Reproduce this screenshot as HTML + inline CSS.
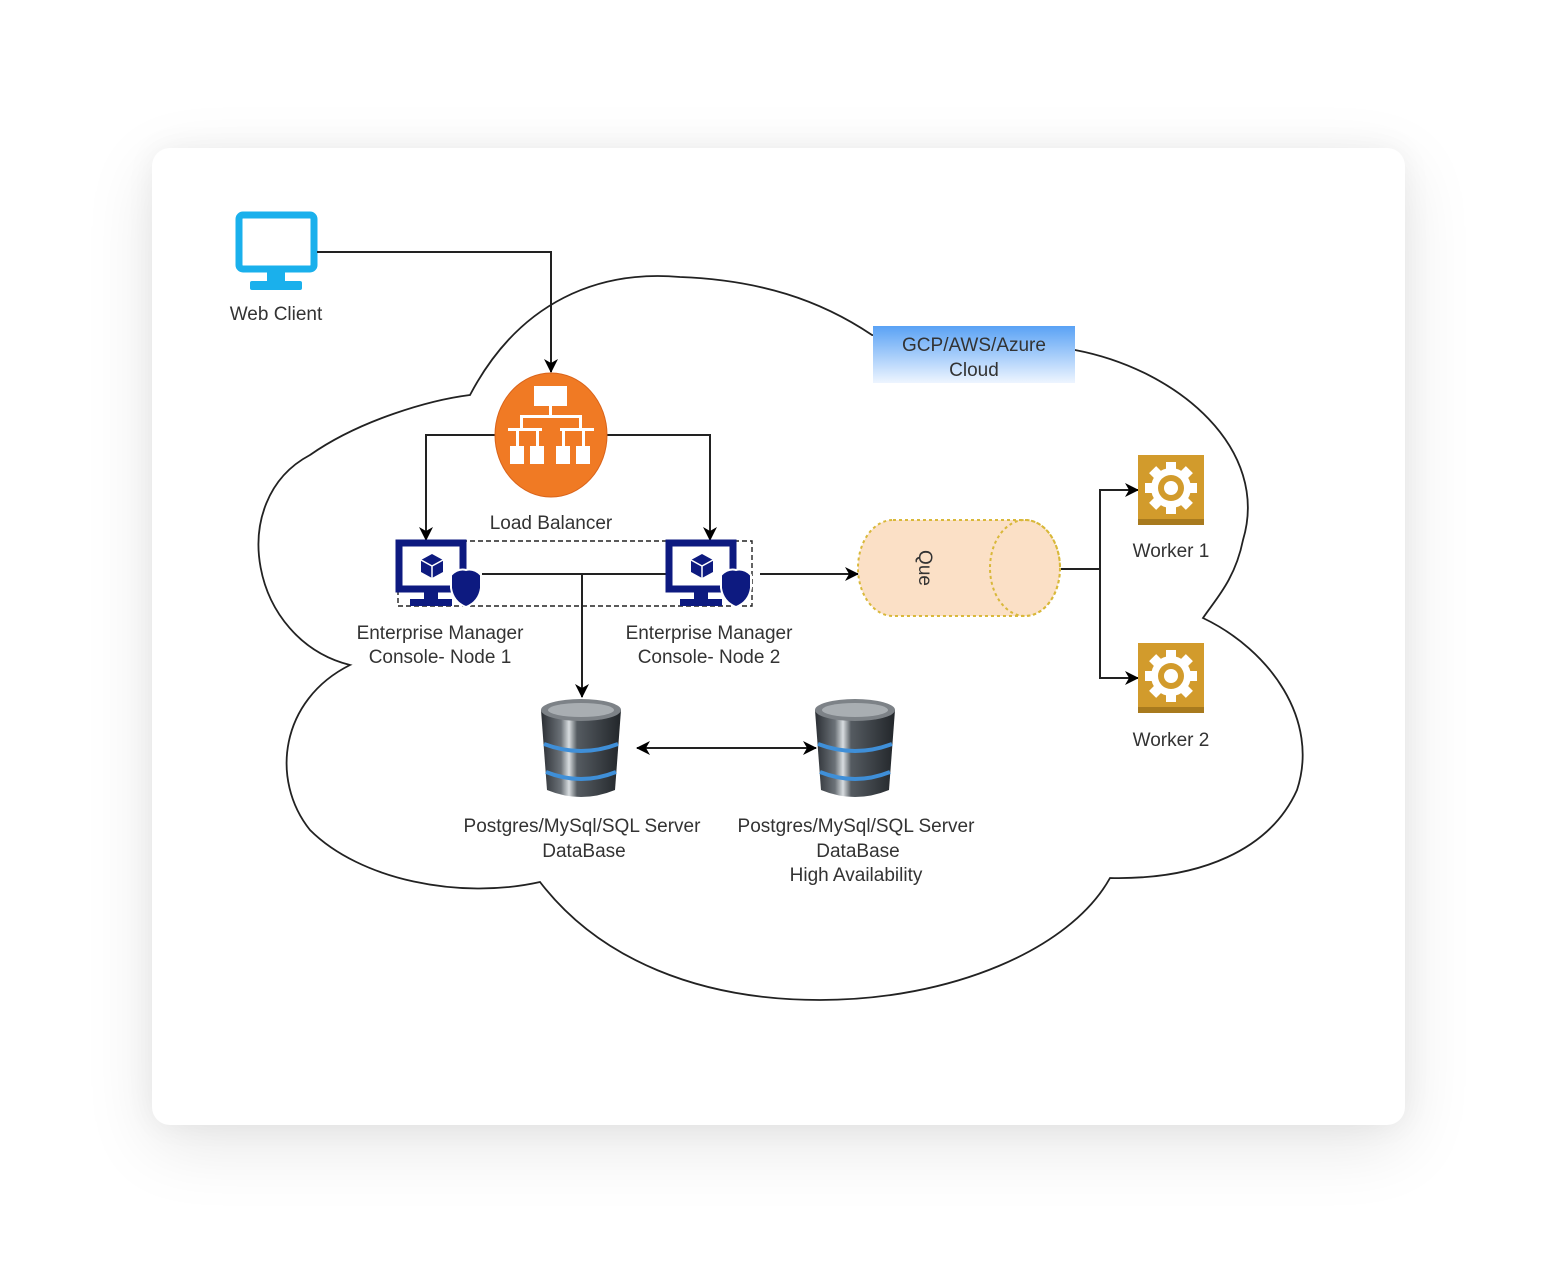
<!DOCTYPE html>
<html><head><meta charset="utf-8"><style>
html,body{margin:0;padding:0;background:#fff;}
body{width:1556px;height:1282px;position:relative;overflow:hidden;font-family:"Liberation Sans",sans-serif;}
.card{position:absolute;left:152px;top:148px;width:1253px;height:977px;background:#fff;border-radius:18px;box-shadow:0 20px 70px rgba(0,0,0,0.10),0 0 30px rgba(0,0,0,0.05);}
svg{position:absolute;left:0;top:0;}
text{font-family:"Liberation Sans",sans-serif;font-size:19px;fill:#333;}
</style></head><body>
<div class="card"></div>
<svg width="1556" height="1282" viewBox="0 0 1556 1282">
<defs>
<linearGradient id="gb" x1="0" y1="0" x2="0" y2="1"><stop offset="0" stop-color="#5aa2f5"/><stop offset="1" stop-color="#eef5ff"/></linearGradient>
<linearGradient id="dbg" x1="0" y1="0" x2="1" y2="0"><stop offset="0" stop-color="#2a2e33"/><stop offset="0.25" stop-color="#6c7278"/><stop offset="0.35" stop-color="#d8dde0"/><stop offset="0.45" stop-color="#555b61"/><stop offset="1" stop-color="#22262a"/></linearGradient>
<marker id="ar" markerWidth="14" markerHeight="14" refX="13" refY="7" orient="auto" markerUnits="userSpaceOnUse"><path d="M0,0 L14,7 L0,14 L4,7 z" fill="#000"/></marker>
<marker id="al" markerWidth="14" markerHeight="14" refX="1" refY="7" orient="auto" markerUnits="userSpaceOnUse"><path d="M14,0 L0,7 L14,14 L10,7 z" fill="#000"/></marker>
<g id="gear"><rect x="0" y="0" width="66" height="70" fill="#d29b2c"/><rect x="0" y="64" width="66" height="6" fill="#a87a1e"/>
<g transform="translate(33,33)" fill="#fff"><circle r="20"/><g><rect x="-5" y="-26" width="10" height="52"/><rect x="-5" y="-26" width="10" height="52" transform="rotate(45)"/><rect x="-5" y="-26" width="10" height="52" transform="rotate(90)"/><rect x="-5" y="-26" width="10" height="52" transform="rotate(135)"/></g><circle r="13" fill="#d29b2c"/><circle r="7" fill="#fff"/></g></g>
<g id="vm"><rect x="3" y="3" width="64" height="46" fill="#fff" stroke="#0d1a80" stroke-width="7"/><rect x="28" y="50" width="14" height="10" fill="#0d1a80"/><rect x="14" y="59" width="42" height="7" fill="#0d1a80"/>
<path d="M36,14 L47,20 L47,32 L36,38 L25,32 L25,20 z" fill="#0d1a80"/><path d="M25,20 L36,26 L47,20 M36,26 L36,38" stroke="#fff" stroke-width="1.5" fill="none"/>
<path d="M70,30 Q62,28 55,35 L55,48 Q57,62 70,67 Q83,62 85,48 L85,35 Q78,28 70,30 z" fill="#0d1a80" stroke="#fff" stroke-width="2"/></g>
<g id="dbi"><path d="M0,12 L6,92 Q40,106 74,92 L80,12 z" fill="url(#dbg)"/><ellipse cx="40" cy="12" rx="40" ry="11" fill="#7d8287"/><ellipse cx="40" cy="12" rx="33" ry="7" fill="#a9aeb2"/>
<path d="M3,46 Q40,60 77,46" stroke="#3f8fd8" stroke-width="4" fill="none"/><path d="M5,74 Q40,88 75,74" stroke="#3f8fd8" stroke-width="4" fill="none"/></g>
</defs>
<path d="M350,665 C250,640 225,500 310,455 C360,420 430,400 470,395 C520,300 600,270 680,277 C760,280 820,300 872,335 L1075,350 C1180,370 1270,450 1243,540 C1235,580 1215,600 1203,618 C1270,650 1320,720 1297,790 C1270,850 1200,880 1110,878 C1070,950 950,1000 820,1000 C700,1000 600,960 540,882 C460,900 360,880 310,830 C270,780 280,700 350,665 z" fill="#fff" stroke="#222" stroke-width="1.8"/>
<rect x="873" y="326" width="202" height="57" fill="url(#gb)"/>
<text x="974" y="351" text-anchor="middle">GCP/AWS/Azure</text>
<text x="974" y="376" text-anchor="middle">Cloud</text>
<rect x="239" y="215" width="75" height="54" rx="4" fill="#fff" stroke="#1ab0ec" stroke-width="7"/>
<rect x="267" y="270" width="18" height="12" fill="#1ab0ec"/><rect x="250" y="281" width="52" height="9" rx="2" fill="#1ab0ec"/>
<text x="276" y="320" text-anchor="middle">Web Client</text>
<g stroke="#222" stroke-width="2" fill="none">
<path d="M317,252 L551,252 L551,372" marker-end="url(#ar)"/>
<path d="M496,435 L426,435 L426,540" marker-end="url(#ar)"/>
<path d="M606,435 L710,435 L710,540" marker-end="url(#ar)"/>
<path d="M482,574 L667,574"/>
<path d="M582,574 L582,697" marker-end="url(#ar)"/>
<path d="M760,574 L858,574" marker-end="url(#ar)"/>
<path d="M1060,569 L1100,569 L1100,490 L1138,490" marker-end="url(#ar)"/>
<path d="M1100,569 L1100,678 L1138,678" marker-end="url(#ar)"/>
<path d="M637,748 L816,748" marker-start="url(#al)" marker-end="url(#ar)"/>
</g>
<ellipse cx="551" cy="435" rx="56" ry="62" fill="#f07a24" stroke="#d9631a" stroke-width="1"/>
<g fill="#fff"><rect x="534" y="386" width="33" height="20"/><rect x="549" y="406" width="3" height="10"/><rect x="520" y="415" width="62" height="3"/><rect x="520" y="415" width="3" height="14"/><rect x="579" y="415" width="3" height="14"/>
<rect x="508" y="428" width="34" height="3"/><rect x="560" y="428" width="34" height="3"/>
<rect x="510" y="446" width="14" height="18"/><rect x="530" y="446" width="14" height="18"/><rect x="556" y="446" width="14" height="18"/><rect x="576" y="446" width="14" height="18"/>
<rect x="516" y="428" width="3" height="20"/><rect x="536" y="428" width="3" height="20"/><rect x="562" y="428" width="3" height="20"/><rect x="582" y="428" width="3" height="20"/></g>
<text x="551" y="529" text-anchor="middle">Load Balancer</text>
<rect x="398" y="541" width="354" height="65" fill="none" stroke="#222" stroke-width="1.4" stroke-dasharray="5,3"/>
<use href="#vm" x="396" y="540"/>
<use href="#vm" x="666" y="540"/>
<text x="440" y="639" text-anchor="middle">Enterprise Manager</text>
<text x="440" y="663" text-anchor="middle">Console- Node 1</text>
<text x="709" y="639" text-anchor="middle">Enterprise Manager</text>
<text x="709" y="663" text-anchor="middle">Console- Node 2</text>
<path d="M893,520 L1025,520 A35,48 0 0 1 1025,616 L893,616 A35,48 0 0 1 893,520 z" fill="#fbe0c6" stroke="#d9b83a" stroke-width="2" stroke-dasharray="3,3"/>
<ellipse cx="1025" cy="568" rx="35" ry="48" fill="none" stroke="#d9b83a" stroke-width="2" stroke-dasharray="3,3"/>
<text x="0" y="0" transform="translate(919,568) rotate(90)" text-anchor="middle" font-size="20">Que</text>
<use href="#gear" x="1138" y="455"/>
<use href="#gear" x="1138" y="643"/>
<text x="1171" y="557" text-anchor="middle">Worker 1</text>
<text x="1171" y="746" text-anchor="middle">Worker 2</text>
<use href="#dbi" x="541" y="698"/>
<use href="#dbi" x="815" y="698"/>
<text x="582" y="832" text-anchor="middle">Postgres/MySql/SQL Server</text>
<text x="584" y="857" text-anchor="middle">DataBase</text>
<text x="856" y="832" text-anchor="middle">Postgres/MySql/SQL Server</text>
<text x="858" y="857" text-anchor="middle">DataBase</text>
<text x="856" y="881" text-anchor="middle">High Availability</text>
</svg>
</body></html>
